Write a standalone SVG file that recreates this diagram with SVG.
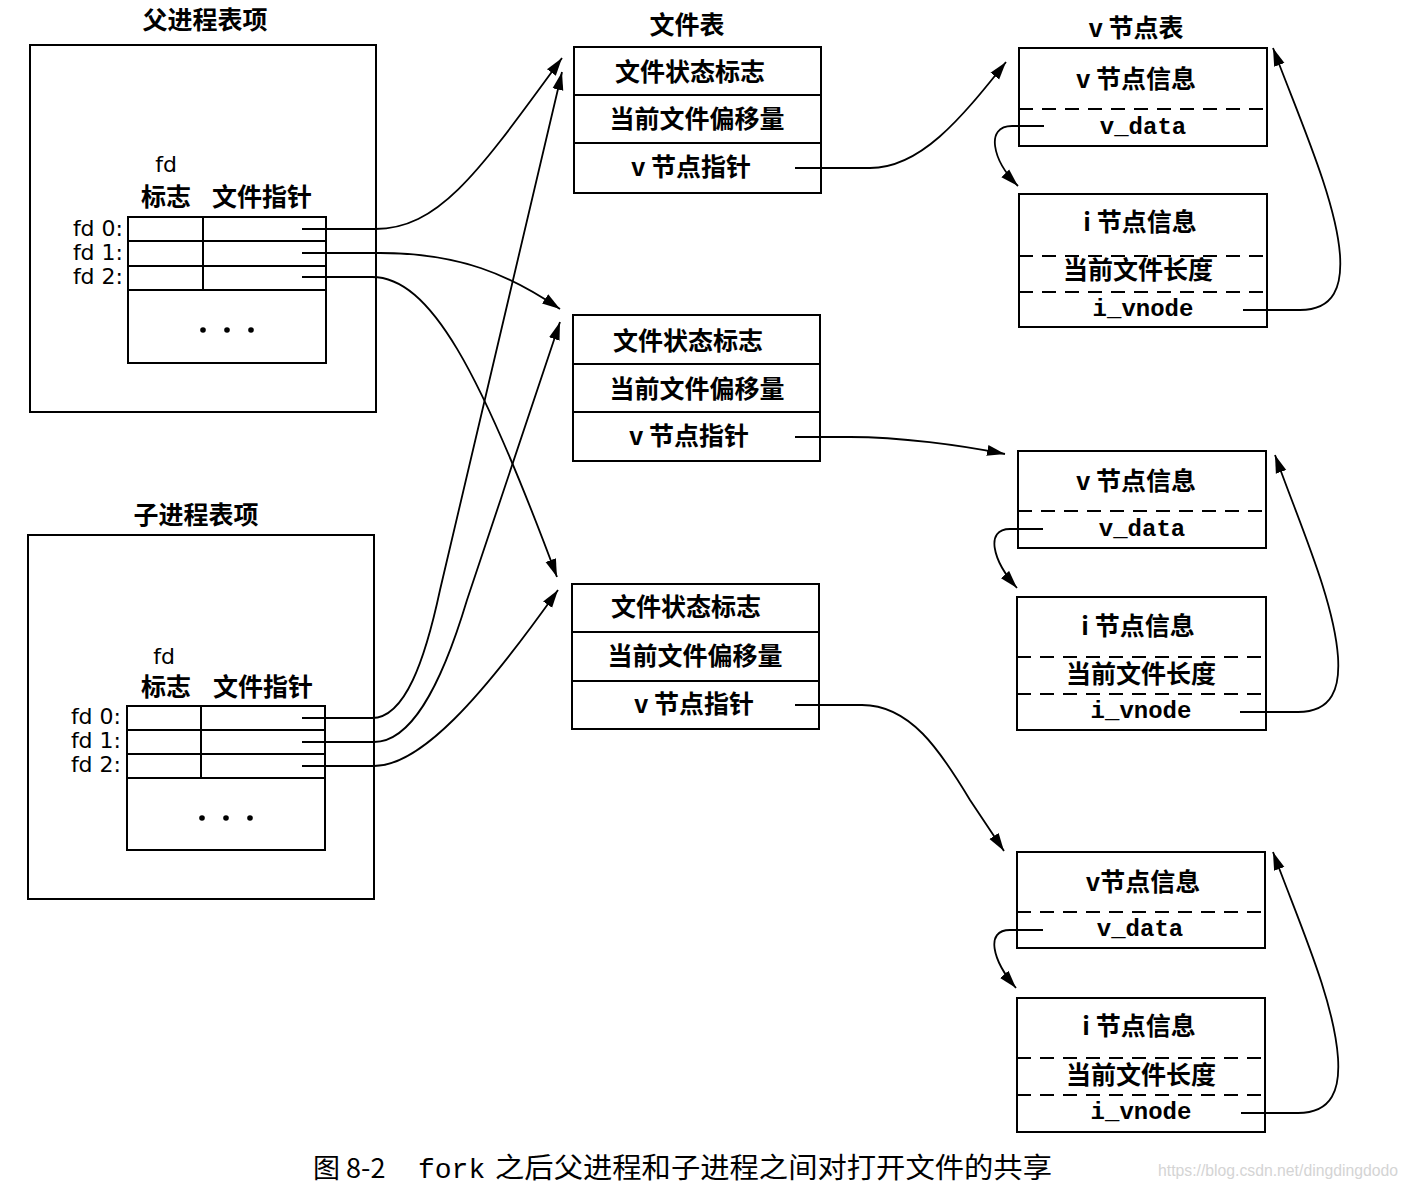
<svg xmlns="http://www.w3.org/2000/svg" width="1407" height="1193" viewBox="0 0 1407 1193">
<style>
.bx{fill:none;stroke:#000;stroke-width:2}
.ln{fill:none;stroke:#000;stroke-width:2}
.dl{fill:none;stroke:#000;stroke-width:2;stroke-dasharray:14 9}
.cj{font-family:"Noto Sans CJK SC","Noto Sans",sans-serif;font-weight:700;font-size:25px;fill:#000;text-anchor:middle}
.fd{font-family:"DejaVu Sans","Liberation Sans",sans-serif;font-size:22px;fill:#000;text-anchor:end}
.fdh{font-family:"DejaVu Sans","Liberation Sans",sans-serif;font-size:22px;fill:#000;text-anchor:middle}
.mo{font-family:"Liberation Mono",monospace;font-weight:700;font-size:24px;fill:#000;text-anchor:middle}
.cn{fill:none;stroke:#000;stroke-width:1.8;marker-end:url(#ah)}
.dot{fill:#000}
</style>
<defs>
<marker id="ah" markerWidth="20" markerHeight="12" refX="18" refY="6" orient="auto" markerUnits="userSpaceOnUse">
<path d="M0,0.5 L18,6 L0,11.5 z" fill="#000"/>
</marker>
</defs>
<rect width="1407" height="1193" fill="#fff"/>

<g id="parent">
<text class="cj" x="205" y="29">父进程表项</text>
<rect class="bx" x="30" y="45" width="346" height="367"/>
<text class="fdh" x="166" y="172">fd</text>
<text class="cj" x="166" y="206">标志</text>
<text class="cj" x="262" y="206">文件指针</text>
<rect class="bx" x="128" y="217" width="198" height="146"/>
<line class="ln" x1="128" y1="241" x2="326" y2="241"/>
<line class="ln" x1="128" y1="266" x2="326" y2="266"/>
<line class="ln" x1="128" y1="290" x2="326" y2="290"/>
<line class="ln" x1="203" y1="217" x2="203" y2="290"/>
<text class="fd" x="123" y="236">fd 0:</text>
<text class="fd" x="123" y="260">fd 1:</text>
<text class="fd" x="123" y="284">fd 2:</text>
<circle class="dot" cx="203" cy="330" r="2.8"/>
<circle class="dot" cx="227" cy="330" r="2.8"/>
<circle class="dot" cx="251" cy="330" r="2.8"/>
</g>

<g id="child">
<text class="cj" x="196" y="524">子进程表项</text>
<rect class="bx" x="28" y="535" width="346" height="364"/>
<text class="fdh" x="164" y="664">fd</text>
<text class="cj" x="166" y="696">标志</text>
<text class="cj" x="263" y="696">文件指针</text>
<rect class="bx" x="127" y="706" width="198" height="144"/>
<line class="ln" x1="127" y1="730" x2="325" y2="730"/>
<line class="ln" x1="127" y1="754" x2="325" y2="754"/>
<line class="ln" x1="127" y1="778" x2="325" y2="778"/>
<line class="ln" x1="201" y1="706" x2="201" y2="778"/>
<text class="fd" x="121" y="724">fd 0:</text>
<text class="fd" x="121" y="748">fd 1:</text>
<text class="fd" x="121" y="772">fd 2:</text>
<circle class="dot" cx="202" cy="818" r="2.8"/>
<circle class="dot" cx="226" cy="818" r="2.8"/>
<circle class="dot" cx="250" cy="818" r="2.8"/>
</g>

<g id="filetable1">
<text class="cj" x="687" y="34">文件表</text>
<rect class="bx" x="574" y="47" width="247" height="146"/>
<line class="ln" x1="574" y1="95" x2="821" y2="95"/>
<line class="ln" x1="574" y1="143" x2="821" y2="143"/>
<text class="cj" x="690" y="81">文件状态标志</text>
<text class="cj" x="697" y="128">当前文件偏移量</text>
<text class="cj" x="691" y="176">v 节点指针</text>
</g>

<g id="filetable2">
<rect class="bx" x="573" y="315" width="247" height="146"/>
<line class="ln" x1="573" y1="364" x2="820" y2="364"/>
<line class="ln" x1="573" y1="412" x2="820" y2="412"/>
<text class="cj" x="688" y="350">文件状态标志</text>
<text class="cj" x="697" y="398">当前文件偏移量</text>
<text class="cj" x="689" y="445">v 节点指针</text>
</g>

<g id="filetable3">
<rect class="bx" x="572" y="584" width="247" height="145"/>
<line class="ln" x1="572" y1="632" x2="819" y2="632"/>
<line class="ln" x1="572" y1="681" x2="819" y2="681"/>
<text class="cj" x="686" y="616">文件状态标志</text>
<text class="cj" x="695" y="665">当前文件偏移量</text>
<text class="cj" x="694" y="713">v 节点指针</text>
</g>

<g id="vnode1">
<text class="cj" x="1136" y="37">v 节点表</text>
<rect class="bx" x="1019" y="48" width="248" height="98"/>
<line class="dl" x1="1019" y1="109" x2="1267" y2="109"/>
<text class="cj" x="1136" y="88">v 节点信息</text>
<text class="mo" x="1143" y="134">v_data</text>
</g>
<g id="inode1">
<rect class="bx" x="1019" y="194" width="248" height="133"/>
<line class="dl" x1="1019" y1="256" x2="1267" y2="256"/>
<line class="dl" x1="1019" y1="292" x2="1267" y2="292"/>
<text class="cj" x="1140" y="231">i 节点信息</text>
<text class="cj" x="1138" y="279">当前文件长度</text>
<text class="mo" x="1143" y="316">i_vnode</text>
</g>

<g id="vnode2">
<rect class="bx" x="1018" y="451" width="248" height="97"/>
<line class="dl" x1="1018" y1="511" x2="1266" y2="511"/>
<text class="cj" x="1136" y="490">v 节点信息</text>
<text class="mo" x="1142" y="536">v_data</text>
</g>
<g id="inode2">
<rect class="bx" x="1017" y="597" width="249" height="133"/>
<line class="dl" x1="1017" y1="657" x2="1266" y2="657"/>
<line class="dl" x1="1017" y1="694" x2="1266" y2="694"/>
<text class="cj" x="1138" y="635">i 节点信息</text>
<text class="cj" x="1141" y="683">当前文件长度</text>
<text class="mo" x="1141" y="718">i_vnode</text>
</g>

<g id="vnode3">
<rect class="bx" x="1017" y="852" width="248" height="96"/>
<line class="dl" x1="1017" y1="912" x2="1265" y2="912"/>
<text class="cj" x="1143" y="891">v节点信息</text>
<text class="mo" x="1140" y="936">v_data</text>
</g>
<g id="inode3">
<rect class="bx" x="1017" y="998" width="248" height="134"/>
<line class="dl" x1="1017" y1="1058" x2="1265" y2="1058"/>
<line class="dl" x1="1017" y1="1095" x2="1265" y2="1095"/>
<text class="cj" x="1139" y="1035">i 节点信息</text>
<text class="cj" x="1141" y="1084">当前文件长度</text>
<text class="mo" x="1141" y="1119">i_vnode</text>
</g>

<g id="connectors">
<path class="cn" d="M302,229 L375,229 C440,229 480,170 562,58"/>
<path class="cn" d="M302,253 L380,253 C460,253 510,275 560,309"/>
<path class="cn" d="M302,277 L372,277 C430,277 480,370 557,577"/>
<path class="cn" d="M302,718 L372,718 C405,718 425,660 440,590 L562,72"/>
<path class="cn" d="M302,742 L374,742 C410,742 440,690 467,600 L560,322"/>
<path class="cn" d="M302,766 L374,766 C420,766 480,700 558,590"/>
<path class="cn" d="M795,168 L870,168 C920,168 960,120 1006,62"/>
<path class="cn" d="M795,437 L850,437 C900,437 960,445 1005,454"/>
<path class="cn" d="M795,705 L862,705 C910,705 940,750 970,800 L1004,851"/>
<path class="cn" d="M1044,126 L1012,126 C985,126 992,160 1018,186"/>
<path class="cn" d="M1043,529 L1010,529 C985,529 992,560 1017,588"/>
<path class="cn" d="M1043,930 L1010,930 C985,930 992,960 1016,988"/>
<path class="cn" d="M1243,310 L1300,310 C1335,310 1342,285 1340,255 C1336,200 1300,120 1273,48"/>
<path class="cn" d="M1240,712 L1298,712 C1333,712 1340,687 1338,657 C1334,600 1300,525 1275,455"/>
<path class="cn" d="M1241,1113 L1298,1113 C1333,1113 1340,1088 1338,1058 C1334,1000 1300,925 1273,852"/>
</g>

<g id="caption">
<text x="313" y="1178" style="font-family:'Noto Sans CJK SC',sans-serif;font-size:27px;fill:#000">图 8-2</text>
<text x="418" y="1178" style="font-family:'Liberation Mono',monospace;font-size:28px;fill:#000">fork</text>
<text x="495" y="1178" textLength="557" lengthAdjust="spacingAndGlyphs" style="font-family:'Noto Sans CJK SC',sans-serif;font-size:28px;fill:#000">之后父进程和子进程之间对打开文件的共享</text>
<text x="1158" y="1176" textLength="240" lengthAdjust="spacingAndGlyphs" style="font-family:'Liberation Sans Narrow','Liberation Sans',sans-serif;font-size:16px;fill:#d4d4d4">https://blog.csdn.net/dingdingdodo</text>
</g>
</svg>
